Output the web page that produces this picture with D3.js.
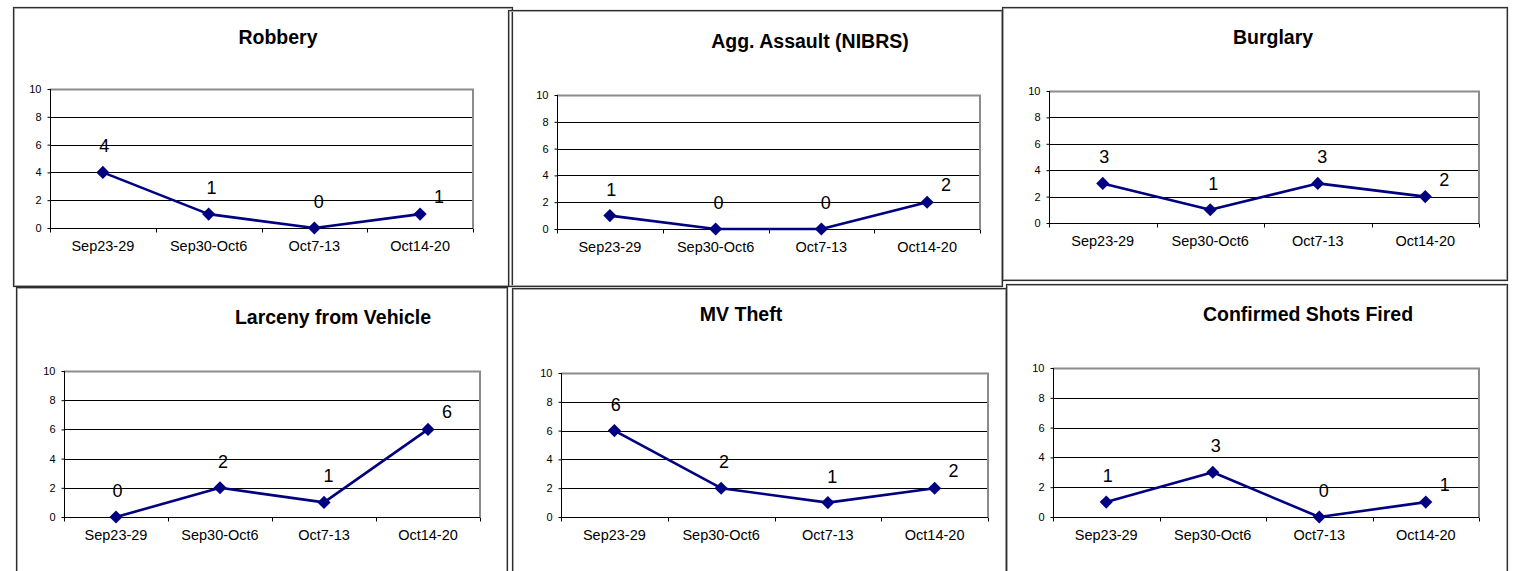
<!DOCTYPE html>
<html>
<head>
<meta charset="utf-8">
<script src="https://cdn.jsdelivr.net/npm/d3@7/dist/d3.min.js"></script>
<style>
  html, body { margin: 0; padding: 0; background: #fff; }
  svg { display: block; }
  text { font-family: Arial, "Liberation Sans", sans-serif; fill: #000; }
</style>
</head>
<body>
<svg id="chart" width="1525" height="571"></svg>
<script>
// Weekly incident counts, one small chart per offence type
const categories = ["Sep23-29", "Sep30-Oct6", "Oct7-13", "Oct14-20"];
const yTicks = [0, 2, 4, 6, 8, 10];
const titles = ["Robbery", "Agg. Assault (NIBRS)", "Burglary",
                "Larceny from Vehicle", "MV Theft", "Confirmed Shots Fired"];
const robbery = [4, 1, 0, 1];
const aggAssault = [1, 0, 0, 2];
const burglary = [3, 1, 3, 2];
const larcenyFromVehicle = [0, 2, 1, 6];
const mvTheft = [6, 2, 1, 2];
const shotsFired = [1, 3, 0, 1];
const seriesList = [robbery, aggAssault, burglary, larcenyFromVehicle, mvTheft, shotsFired];

// Frame of each chart: outer box, plot area and title placement
const frames = [
  { box: [13, 7, 512, 286],    plot: [50, 89, 473, 228],    tx: 278,  ty: 44 },
  { box: [508, 10, 1002, 286], plot: [557, 95, 980, 229],   tx: 810,  ty: 47.5 },
  { box: [1002, 7, 1507, 280], plot: [1049, 91, 1479, 223], tx: 1273, ty: 44 },
  { box: [16, 287, 507, 600],  plot: [64, 371, 480, 517],   tx: 333,  ty: 324 },
  { box: [512, 288, 1006, 600], plot: [561, 373, 988, 517], tx: 741,  ty: 320.5 },
  { box: [1006, 284, 1507, 600], plot: [1053, 368, 1479, 517], tx: 1308, ty: 320.5 }
];

// Value labels sit above and slightly right of each point
const labelDx = [1.5, 3, 4.5, 19];
const labelDy = [-20, -20, -20, -11];

const LINE = "#000080";
const svg = d3.select("#chart");

frames.forEach((f, i) => {
  const values = seriesList[i];
  const [bx0, by0, bx1, by1] = f.box;
  const [px0, py0, px1, py1] = f.plot;
  const g = svg.append("g");

  // outer chart border with a faint inner shade
  g.append("rect")
    .attr("x", bx0 + 1.5).attr("y", by0 + 1.5)
    .attr("width", bx1 - bx0 - 2).attr("height", by1 - by0 - 2)
    .attr("fill", "none").attr("stroke", "#b5b5b5").attr("stroke-width", 1);
  g.append("rect")
    .attr("x", bx0 + 0.5).attr("y", by0 + 0.5)
    .attr("width", bx1 - bx0).attr("height", by1 - by0)
    .attr("fill", "none").attr("stroke", "#2e2e2e").attr("stroke-width", 1.2);

  const x = d3.scaleBand().domain(categories).range([px0, px1]).padding(0);
  const y = d3.scaleLinear().domain([0, 10]).range([py1, py0]);

  // title
  g.append("text")
    .attr("x", f.tx).attr("y", f.ty)
    .attr("text-anchor", "middle")
    .style("font-size", "19.5px").style("font-weight", "bold")
    .text(titles[i]);

  // horizontal gridlines
  g.append("g").selectAll("line")
    .data(yTicks.filter(t => t > 0 && t < 10))
    .join("line")
    .attr("x1", px0).attr("x2", px1)
    .attr("y1", d => Math.round(y(d)) + 0.5).attr("y2", d => Math.round(y(d)) + 0.5)
    .attr("stroke", "#000").attr("stroke-width", 1);

  // plot area frame (top and right in grey)
  g.append("path")
    .attr("d", `M${px0},${y(10) + 0.5}H${px1}V${py1}`)
    .attr("fill", "none").attr("stroke", "#8c8c8c").attr("stroke-width", 2);

  // y axis
  const yAxis = d3.axisLeft(y).tickValues(yTicks).tickSize(3).tickPadding(6);
  const ya = g.append("g").attr("transform", `translate(${px0 + 0.5},0)`).call(yAxis);
  ya.select(".domain").attr("stroke", "#000").attr("d", `M0,${py0}V${py1}`);
  ya.selectAll(".tick line").attr("stroke", "#000");
  ya.selectAll(".tick text").style("font-size", "11px")
    .style("font-family", "Arial, 'Liberation Sans', sans-serif").attr("fill", "#000");

  // x axis: ticks at category boundaries, labels centred in each band
  const xb = g.append("g").attr("transform", `translate(0,${Math.round(py1) + 0.5})`);
  xb.append("line").attr("x1", px0).attr("x2", px1).attr("stroke", "#000").attr("stroke-width", 1.2);
  const edges = categories.map(c => x(c)).concat([px1]);
  xb.selectAll("line.edge").data(edges).join("line")
    .attr("class", "edge")
    .attr("x1", d => Math.round(d) + 0.5).attr("x2", d => Math.round(d) + 0.5)
    .attr("y1", 0).attr("y2", 4).attr("stroke", "#000");
  xb.selectAll("text").data(categories).join("text")
    .attr("x", d => x(d) + x.bandwidth() / 2)
    .attr("y", 22)
    .attr("text-anchor", "middle")
    .style("font-size", "14.5px")
    .text(d => d);

  const cx = (d, k) => x(categories[k]) + x.bandwidth() / 2;

  // series line
  g.append("path")
    .datum(values)
    .attr("d", d3.line().x((d, k) => cx(d, k)).y(d => y(d)))
    .attr("fill", "none").attr("stroke", LINE)
    .attr("stroke-width", 2.6).attr("stroke-linejoin", "round");

  // diamond markers
  const diamond = d3.symbol().type(d3.symbolSquare).size(86);
  g.append("g").selectAll("path")
    .data(values)
    .join("path")
    .attr("d", diamond)
    .attr("transform", (d, k) => `translate(${cx(d, k)},${y(d)}) rotate(45)`)
    .attr("fill", LINE);

  // value labels
  g.append("g").selectAll("text")
    .data(values)
    .join("text")
    .attr("x", (d, k) => cx(d, k) + labelDx[k])
    .attr("y", (d, k) => y(d) + labelDy[k])
    .attr("text-anchor", "middle")
    .style("font-size", "18px")
    .text(d => d);
});
</script>
</body>
</html>
